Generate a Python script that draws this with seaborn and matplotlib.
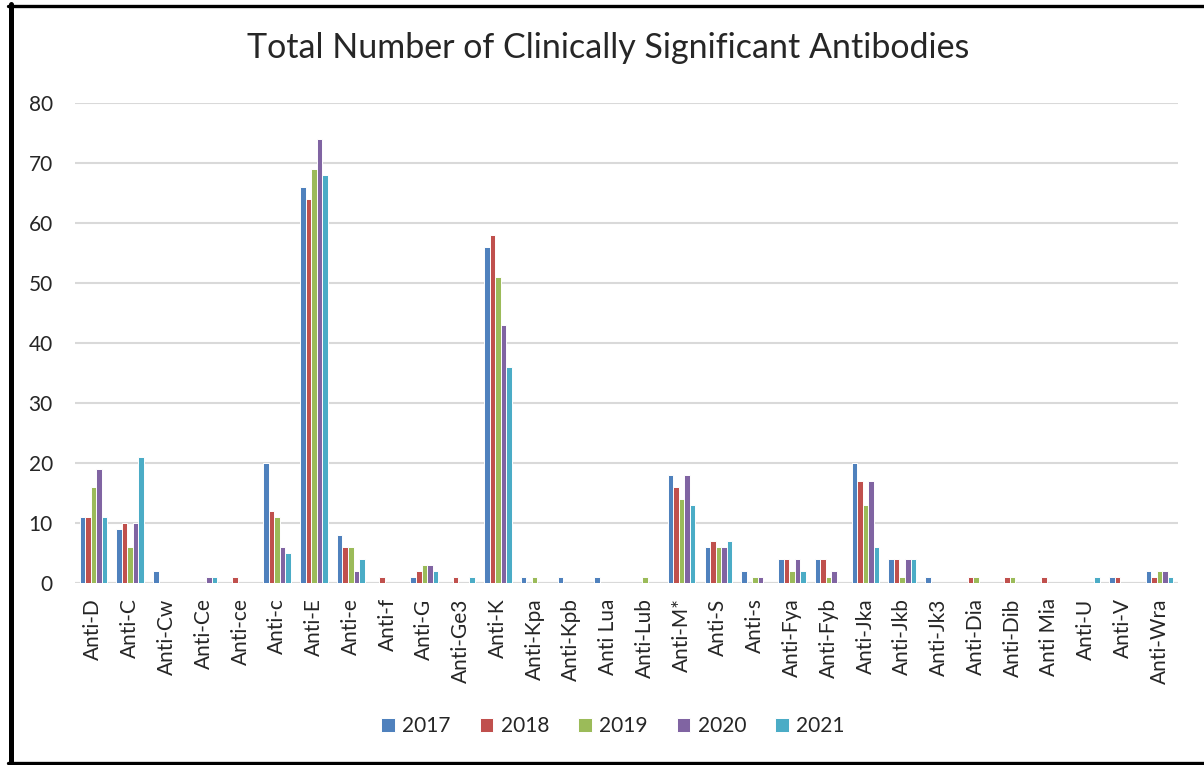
import matplotlib
matplotlib.use("Agg")
import matplotlib.pyplot as plt
import pandas as pd
import seaborn as sns

# antibody categories (x axis)
antibodies = ["Anti-D", "Anti-C", "Anti-Cw", "Anti-Ce", "Anti-ce", "Anti-c", "Anti-E",
              "Anti-e", "Anti-f", "Anti-G", "Anti-Ge3", "Anti-K", "Anti-Kpa", "Anti-Kpb",
              "Anti Lua", "Anti-Lub", "Anti-M*", "Anti-S", "Anti-s", "Anti-Fya", "Anti-Fyb",
              "Anti-Jka", "Anti-Jkb", "Anti-Jk3", "Anti-Dia", "Anti-Dib", "Anti Mia",
              "Anti-U", "Anti-V", "Anti-Wra"]

years = ["2017", "2018", "2019", "2020", "2021"]

counts_2017 = [11, 9, 2, 0, 0, 20, 66, 8, 0, 1, 0, 56, 1, 1, 1, 0, 18, 6, 2, 4, 4, 20, 4, 1, 0, 0, 0, 0, 1, 2]
counts_2018 = [11, 10, 0, 0, 1, 12, 64, 6, 1, 2, 1, 58, 0, 0, 0, 0, 16, 7, 0, 4, 4, 17, 4, 0, 1, 1, 1, 0, 1, 1]
counts_2019 = [16, 6, 0, 0, 0, 11, 69, 6, 0, 3, 0, 51, 1, 0, 0, 1, 14, 6, 1, 2, 1, 13, 1, 0, 1, 1, 0, 0, 0, 2]
counts_2020 = [19, 10, 0, 1, 0, 6, 74, 2, 0, 3, 0, 43, 0, 0, 0, 0, 18, 6, 1, 4, 2, 17, 4, 0, 0, 0, 0, 0, 0, 2]
counts_2021 = [11, 21, 0, 1, 0, 5, 68, 4, 0, 2, 1, 36, 0, 0, 0, 0, 13, 7, 0, 2, 0, 6, 4, 0, 0, 0, 0, 1, 0, 1]

year_colors = ["#4F81BD", "#C0504D", "#9BBB59", "#8064A2", "#4BACC6"]

# long form table for seaborn
rows = []
for year, vals in zip(years, [counts_2017, counts_2018, counts_2019, counts_2020, counts_2021]):
    for ab, v in zip(antibodies, vals):
        rows.append({"antibody": ab, "year": year, "count": v})
df = pd.DataFrame(rows)

sns.set_style("white")
plt.rcParams["font.family"] = ["Lato", "DejaVu Sans"]

fig = plt.figure(figsize=(12.04, 7.65), dpi=100)
ax = fig.add_axes([75 / 1204, 1 - 583 / 765, (1178 - 75) / 1204, (583 - 103) / 765])

sns.barplot(data=df, x="antibody", y="count", hue="year", hue_order=years,
            order=antibodies, palette=year_colors, width=0.75,
            edgecolor="white", linewidth=0.7, saturation=1, ax=ax, zorder=3)

ax.set_ylim(0, 80)
ax.set_xlim(-0.5, len(antibodies) - 0.5)
ax.set_yticks(range(0, 81, 10))
ax.yaxis.grid(True, color="#D9D9D9", linewidth=1.5, zorder=0)
ax.set_axisbelow(True)
for s in ax.spines.values():
    s.set_visible(False)
ax.axhline(0, color="#D9D9D9", linewidth=1.5, zorder=1)
ax.set_xlabel("")
ax.set_ylabel("")
ax.tick_params(axis="y", length=0, pad=16, labelsize=15)
ax.tick_params(axis="x", length=0, pad=11, labelsize=15, rotation=90)

handles, labels = ax.get_legend_handles_labels()
ax.legend_.remove()
fig.legend(handles, labels, loc="center", bbox_to_anchor=(613 / 1204, 1 - 726 / 765),
           ncol=5, frameon=False, fontsize=15, handlelength=0.65, handleheight=0.65,
           handletextpad=0.35, columnspacing=1.4)

fig.text(608 / 1204, 1 - 48 / 765, "Total Number of Clinically Significant Antibodies",
         ha="center", va="center", fontsize=24.5)

# black frame around the chart (right edge runs off the image)
fig.add_artist(plt.Line2D([10.8 / 1204, 10.8 / 1204], [0, 1 - 4 / 765], color="black",
                          linewidth=3.6, transform=fig.transFigure))
fig.add_artist(plt.Line2D([8 / 1204, 1], [1 - 5.6 / 765, 1 - 5.6 / 765], color="black",
                          linewidth=2.4, transform=fig.transFigure))
fig.add_artist(plt.Line2D([8 / 1204, 1], [2.5 / 765, 2.5 / 765], color="black",
                          linewidth=2.4, transform=fig.transFigure))

fig.savefig("out.png", dpi=100)
